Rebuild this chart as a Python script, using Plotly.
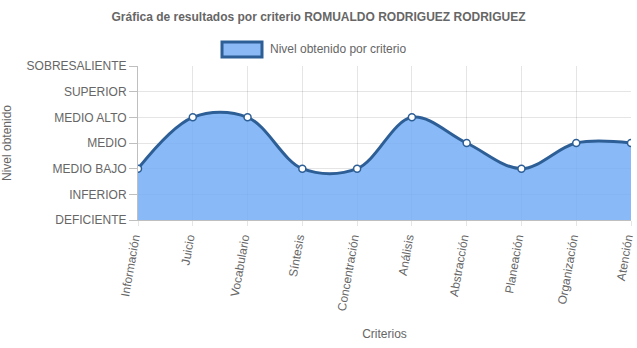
import plotly.graph_objects as go

criterios = ["Información", "Juicio", "Vocabulario", "Síntesis", "Concentración",
             "Análisis", "Abstracción", "Planeación", "Organización", "Atención"]
niveles = ["DEFICIENTE", "INFERIOR", "MEDIO BAJO", "MEDIO", "MEDIO ALTO",
           "SUPERIOR", "SOBRESALIENTE"]
nivel_obtenido = [2, 4, 4, 2, 2, 4, 3, 2, 3, 3]

FONT = "Liberation Sans, Arial, Helvetica, sans-serif"
GRAY = "#666666"
FILL = "rgba(112,170,245,0.82)"
LINE = "#2d5f96"
GRID = "rgba(0,0,0,0.1)"

L, R, T, B = 138, 6, 66, 128
PW, PH = 637 - L - R, 348 - T - B

fig = go.Figure()
fig.add_trace(go.Scatter(
    x=list(range(len(criterios))),
    y=nivel_obtenido,
    mode="lines+markers",
    line=dict(color=LINE, width=3, shape="spline", smoothing=1.0),
    fill="tozeroy",
    fillcolor=FILL,
    marker=dict(size=7, color="white", line=dict(color=LINE, width=1.5)),
    name="Nivel obtenido por criterio",
    showlegend=False,
    hoverinfo="skip",
))

# legend swatch and label
fig.add_shape(type="rect", xref="paper", yref="paper",
              x0=(222 - L) / PW, x1=(262 - L) / PW,
              y0=1 + (T - 57) / PH, y1=1 + (T - 42) / PH,
              fillcolor="#8ab9f5", line=dict(color=LINE, width=3))
fig.add_annotation(xref="paper", yref="paper",
                   x=(268 - L) / PW, y=1 + (T - 49.5) / PH,
                   xanchor="left", yanchor="middle", showarrow=False,
                   text="Nivel obtenido por criterio",
                   font=dict(family=FONT, size=12, color=GRAY))

fig.update_layout(
    width=637, height=348,
    margin=dict(l=L, r=R, t=T, b=B, autoexpand=False),
    paper_bgcolor="white", plot_bgcolor="white",
    font=dict(family=FONT, size=12, color=GRAY),
    title=dict(text="<b>Gráfica de resultados por criterio ROMUALDO RODRIGUEZ RODRIGUEZ</b>",
               x=0.5, xanchor="center", y=1 - 17 / 348, yanchor="middle",
               font=dict(family=FONT, size=12, color=GRAY)),
    xaxis=dict(
        range=[0, len(criterios) - 1],
        tickmode="array", tickvals=list(range(len(criterios))), ticktext=criterios,
        tickangle=-80, ticks="outside", ticklen=5, tickcolor=GRID,
        ticklabeloverflow="allow", ticklabelshift=-4,
        showgrid=True, gridcolor=GRID, gridwidth=1,
        showline=True, linecolor="rgba(0,0,0,0.25)",
        zeroline=False, automargin=False,
        tickfont=dict(family=FONT, size=12, color=GRAY),
        title=dict(text="Criterios", standoff=18,
                   font=dict(family=FONT, size=12, color=GRAY)),
    ),
    yaxis=dict(
        range=[0, len(niveles) - 1],
        tickmode="array", tickvals=list(range(len(niveles))), ticktext=niveles,
        ticks="outside", ticklen=8, tickcolor="rgba(0,0,0,0.25)",
        showgrid=True, gridcolor=GRID, gridwidth=1,
        showline=True, linecolor="rgba(0,0,0,0.25)",
        zeroline=False, automargin=False,
        tickfont=dict(family=FONT, size=12, color=GRAY),
        title=dict(text="Nivel obtenido", standoff=16,
                   font=dict(family=FONT, size=12, color=GRAY)),
    ),
)

fig.write_html("out.html")
